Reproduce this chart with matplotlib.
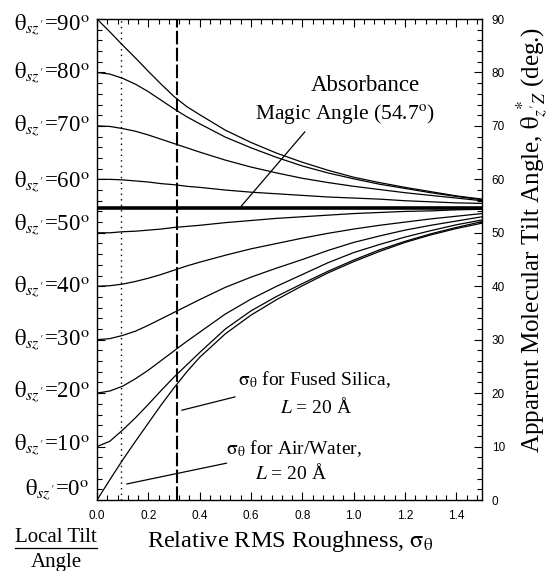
import numpy as np
import matplotlib.pyplot as plt
from matplotlib.lines import Line2D
from matplotlib.ticker import MultipleLocator

plt.rcParams['font.family'] = 'serif'
plt.rcParams['font.serif'] = ['Liberation Serif', 'DejaVu Serif']
plt.rcParams['mathtext.fontset'] = 'stix'

# relative RMS roughness (x) and apparent tilt angle curves, one per local tilt angle
sigma = [0.0, 0.05, 0.1, 0.15, 0.2, 0.25, 0.3, 0.35, 0.4, 0.5,
         0.6, 0.7, 0.8, 0.9, 1.0, 1.1, 1.2, 1.3, 1.4, 1.5]
local_tilt = [90, 80, 70, 60, 50, 40, 30, 20, 10, 0]

tilt_90 = [90, 87.6, 85.1, 82.7, 80.2, 77.8, 75.5, 73.6, 72.1, 69.2,
           66.9, 64.9, 63.2, 61.7, 60.4, 59.4, 58.5, 57.7, 56.9, 56.3]
tilt_80 = [80, 79.7, 78.9, 77.8, 76.4, 74.8, 73.2, 71.7, 70.4, 67.9,
           65.9, 64.1, 62.5, 61.2, 60.1, 59.1, 58.3, 57.5, 56.8, 56.2]
tilt_70 = [70, 69.9, 69.5, 69.0, 68.3, 67.5, 66.7, 65.9, 65.1, 63.6,
           62.3, 61.2, 60.2, 59.4, 58.7, 58.1, 57.5, 57.0, 56.5, 56.0]
tilt_60 = [60, 60.0, 59.9, 59.7, 59.5, 59.2, 59.0, 58.7, 58.5, 58.0,
           57.6, 57.3, 57.0, 56.7, 56.5, 56.3, 56.0, 55.8, 55.6, 55.5]
tilt_50 = [50, 50.0, 50.2, 50.3, 50.5, 50.7, 51.0, 51.2, 51.4, 51.9,
           52.3, 52.7, 53.0, 53.3, 53.6, 53.8, 54.0, 54.1, 54.3, 54.4]
tilt_40 = [40, 40.1, 40.4, 40.9, 41.5, 42.2, 43.0, 43.8, 44.5, 45.8,
           47.0, 48.0, 49.0, 49.9, 50.7, 51.4, 52.0, 52.6, 53.1, 53.6]
tilt_30 = [30, 30.2, 30.8, 31.6, 32.7, 33.9, 35.1, 36.3, 37.5, 39.8,
           41.7, 43.4, 45.0, 46.7, 48.2, 49.4, 50.5, 51.4, 52.2, 53.0]
tilt_20 = [20, 20.4, 21.3, 22.7, 24.3, 26.1, 27.9, 29.7, 31.4, 34.8,
           37.6, 40.0, 42.2, 44.4, 46.3, 47.8, 49.2, 50.4, 51.5, 52.4]
tilt_10 = [10, 11.0, 13.1, 15.4, 17.9, 20.5, 23.0, 25.3, 27.6, 32.0,
           35.4, 38.1, 40.5, 42.8, 44.9, 46.8, 48.4, 49.8, 51.0, 52.1]
tilt_0 = [0, 3.8, 7.5, 11.0, 14.4, 17.8, 21.0, 24.0, 26.7, 31.1,
          34.6, 37.5, 40.1, 42.5, 44.6, 46.5, 48.2, 49.6, 50.8, 51.8]

curves = [tilt_90, tilt_80, tilt_70, tilt_60, tilt_50,
          tilt_40, tilt_30, tilt_20, tilt_10, tilt_0]

magic_angle = 54.7
sigma_air_water = 0.095
sigma_fused_silica = 0.31

# label heights next to the left axis (layout only)
label_y = [89.0, 80, 70, 59.6, 51.6, 40, 30, 20.3, 10.3, 1.9]

fig = plt.figure(figsize=(5.5, 5.71), dpi=100)
ax = fig.add_axes([0.1764, 0.1243, 0.70, 0.8424])

for vals in curves:
    ax.plot(sigma, vals, color='black', lw=0.9)

ax.axhline(magic_angle, color='black', lw=2.6)
ax.axvline(sigma_air_water, color='black', lw=1.0, linestyle=(0, (1, 3)))
ax.axvline(sigma_fused_silica, color='black', lw=1.5, linestyle=(0, (6.5, 1.6)))

ax.set_xlim(0, 1.5)
ax.set_ylim(0, 90)
ax.xaxis.set_major_locator(MultipleLocator(0.2))
ax.xaxis.set_minor_locator(MultipleLocator(0.04))
ax.yaxis.set_major_locator(MultipleLocator(10))
ax.yaxis.set_minor_locator(MultipleLocator(2))
ax.tick_params(which='both', direction='in', top=True, right=True, left=True,
               labelleft=False, labelright=True, width=0.8,
               labelfontfamily='Liberation Sans', labelsize=8.5)
ax.tick_params(which='major', length=6)
ax.tick_params(which='minor', length=3.5)
ax.tick_params(axis='x', pad=7)
ax.tick_params(axis='y', pad=7)
ax.xaxis.set_major_formatter(plt.FuncFormatter(lambda v, p: f"{v:.1f}"))
for s in ax.spines.values():
    s.set_linewidth(1.0)

# left-hand labels for the local tilt angle
ytrans = ax.get_yaxis_transform()
for ang, yy in zip(local_tilt, label_y):
    ax.text(-0.02, yy, r"$\mathrm{\theta}_{sz'}$=%d$^{\rm o}$" % ang, transform=ytrans,
            ha='right', va='center', fontsize=16.5)

ax.text(1.044, 77.5, "Absorbance", ha='center', va='center', fontsize=16.5)
ax.text(0.966, 72.2, r"Magic Angle (54.7$^{\rm o}$)", ha='center', va='center', fontsize=15.5)
ax.annotate('', xy=(0.557, magic_angle), xytext=(0.81, 68.9),
            arrowprops=dict(arrowstyle='-', lw=0.9, color='black',
                            shrinkA=0, shrinkB=0))

ax.text(0.845, 22.5, r"$\mathrm{\sigma_\theta}$ for Fused Silica,", ha='center', va='center', fontsize=14)
ax.text(0.853, 17.4, r"$L$ = 20 Å", ha='center', va='center', fontsize=14)
ax.annotate('', xy=(0.33, 16.8), xytext=(0.538, 19.3),
            arrowprops=dict(arrowstyle='-', lw=0.9, color='black',
                            shrinkA=0, shrinkB=0))

ax.text(0.767, 9.7, r"$\mathrm{\sigma_\theta}$ for Air/Water,", ha='center', va='center', fontsize=14)
ax.text(0.756, 5.05, r"$L$ = 20 Å", ha='center', va='center', fontsize=14)
ax.annotate('', xy=(0.1155, 3.0), xytext=(0.505, 6.9),
            arrowprops=dict(arrowstyle='-', lw=0.9, color='black',
                            shrinkA=0, shrinkB=0))

fig.text(0.527, 1 - 542 / 571, r"Relative RMS Roughness, $\mathrm{\sigma_\theta}$",
         ha='center', va='center', fontsize=17.5)
fig.text(0.968, 1 - 240 / 571,
         r"Apparent Molecular Tilt Angle, $\mathrm{\theta}_{z'Z}^{\ *}$ (deg.)",
         ha='center', va='center', rotation=90, fontsize=18)

fig.text(56 / 550, 1 - 538 / 571, "Local Tilt", ha='center', va='center', fontsize=15)
fig.text(56 / 550, 1 - 562 / 571, "Angle", ha='center', va='center', fontsize=15)
fig.add_artist(Line2D([15 / 550, 97 / 550], [1 - 548 / 571, 1 - 548 / 571],
                      color='black', lw=0.9))

fig.savefig("out.png", dpi=100)
